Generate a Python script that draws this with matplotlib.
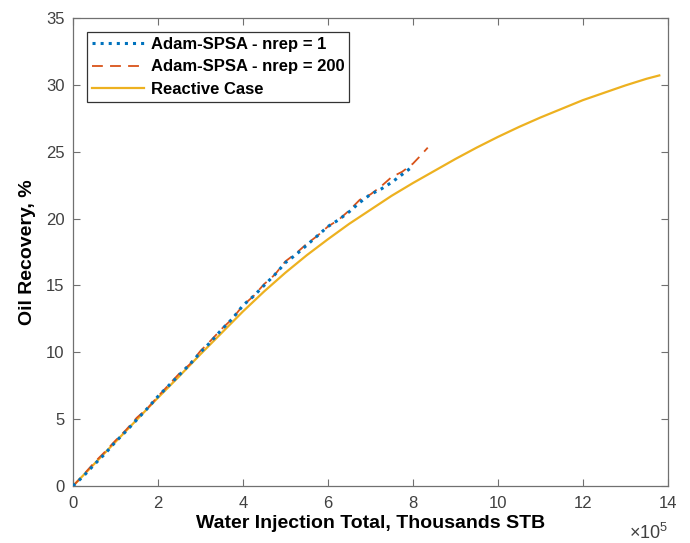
import numpy as np
import matplotlib.pyplot as plt

plt.rcParams['font.family'] = ['Liberation Sans', 'DejaVu Sans']
plt.rcParams['mathtext.fontset'] = 'custom'
plt.rcParams['mathtext.rm'] = 'Liberation Sans'

# water injection in units of 1e5 thousand STB, recovery in %
x_nrep1 = [0, 0.25, 0.5, 0.75, 1.0, 1.25, 1.5, 1.75, 2.0, 2.25, 2.5, 2.75,
           3.0, 3.25, 3.5, 3.75, 4.0, 4.25, 4.5, 4.75, 5.0, 5.25, 5.5, 5.75,
           6.0, 6.25, 6.5, 6.75, 7.0, 7.25, 7.5, 7.75, 8.0]
y_nrep1 = [0, 0.75, 1.6, 2.4, 3.3, 4.1, 4.95, 5.8, 6.7, 7.5, 8.3, 9.1,
           10.0, 10.8, 11.7, 12.5, 13.5, 14.2, 15.0, 15.8, 16.7, 17.3, 18.0, 18.7,
           19.4, 19.9, 20.5, 21.2, 21.8, 22.2, 22.7, 23.3, 23.9]

x_nrep200 = [0, 0.25, 0.5, 0.75, 1.0, 1.25, 1.5, 1.75, 2.0, 2.25, 2.5, 2.75,
             3.0, 3.25, 3.5, 3.75, 4.0, 4.25, 4.5, 4.75, 5.0, 5.25, 5.5, 5.75,
             6.0, 6.25, 6.5, 6.75, 7.0, 7.25, 7.5, 7.75, 8.0, 8.15, 8.35]
y_nrep200 = [0, 0.85, 1.75, 2.55, 3.4, 4.2, 5.1, 5.8, 6.7, 7.55, 8.4, 9.1,
             10.1, 10.9, 11.75, 12.5, 13.5, 14.2, 15.1, 15.8, 16.8, 17.4, 18.1, 18.7,
             19.4, 19.9, 20.6, 21.4, 21.8, 22.4, 23.1, 23.5, 24.1, 24.6, 25.3]

x_reactive = [0, 0.5, 1.0, 1.5, 2.0, 2.5, 3.0, 3.5, 4.0, 4.5, 5.0, 5.5, 6.0,
              6.5, 7.0, 7.5, 8.0, 8.5, 9.0, 9.5, 10.0, 10.5, 11.0, 11.5, 12.0,
              12.5, 13.0, 13.5, 13.8]
y_reactive = [0, 1.65, 3.3, 4.95, 6.6, 8.2, 9.85, 11.45, 13.05, 14.55, 15.95, 17.25, 18.45,
              19.6, 20.65, 21.7, 22.65, 23.55, 24.45, 25.3, 26.1, 26.85, 27.55, 28.2, 28.85,
              29.4, 29.95, 30.45, 30.7]

fig = plt.figure(figsize=(6.9, 5.43), dpi=100)
ax = fig.add_axes([0.1058, 0.105, 0.862, 0.862])

ax.plot(x_nrep1, y_nrep1, color='#0072BD', linestyle=':',
        linewidth=2.2, label='Adam-SPSA - nrep = 1', zorder=4)
ax.plot(x_nrep200, y_nrep200, color='#D95319',
        linestyle=(0, (6, 4)), linewidth=1.3, label='Adam-SPSA - nrep = 200', zorder=3)
ax.plot(x_reactive, y_reactive, color='#EDB120', linestyle='-',
        linewidth=1.6, label='Reactive Case', zorder=2)

ax.set_xlim(0, 14)
ax.set_ylim(0, 35)
ax.set_xticks(np.arange(0, 15, 2))
ax.set_yticks(np.arange(0, 36, 5))

spine_col = '#707070'
for s in ax.spines.values():
    s.set_color(spine_col)
    s.set_linewidth(0.9)
ax.tick_params(direction='in', length=5, width=0.8, color=spine_col,
               labelsize=12, labelcolor='#404040', top=True, right=True)
ax.tick_params(axis='x', pad=7)
ax.tick_params(axis='y', pad=6)

# exponent of the x axis
ax.text(1.0, -0.1, r'$\times10^5$', transform=ax.transAxes, ha='right',
        va='center', fontsize=13, color='#404040')

ax.set_xlabel('Water Injection Total, Thousands STB', fontsize=14,
              fontweight='bold', labelpad=3)
ax.set_ylabel('Oil Recovery, %', fontsize=14, fontweight='bold', labelpad=7)

leg = ax.legend(loc='upper left', bbox_to_anchor=(0.024, 0.97),
                prop={'weight': 'bold', 'size': 12}, frameon=True, fancybox=False,
                edgecolor='#333333', framealpha=1, handlelength=3.1,
                handletextpad=0.4, borderpad=0.3, labelspacing=0.45,
                borderaxespad=0)
leg.get_frame().set_linewidth(0.9)

fig.savefig('out.png', dpi=100)
